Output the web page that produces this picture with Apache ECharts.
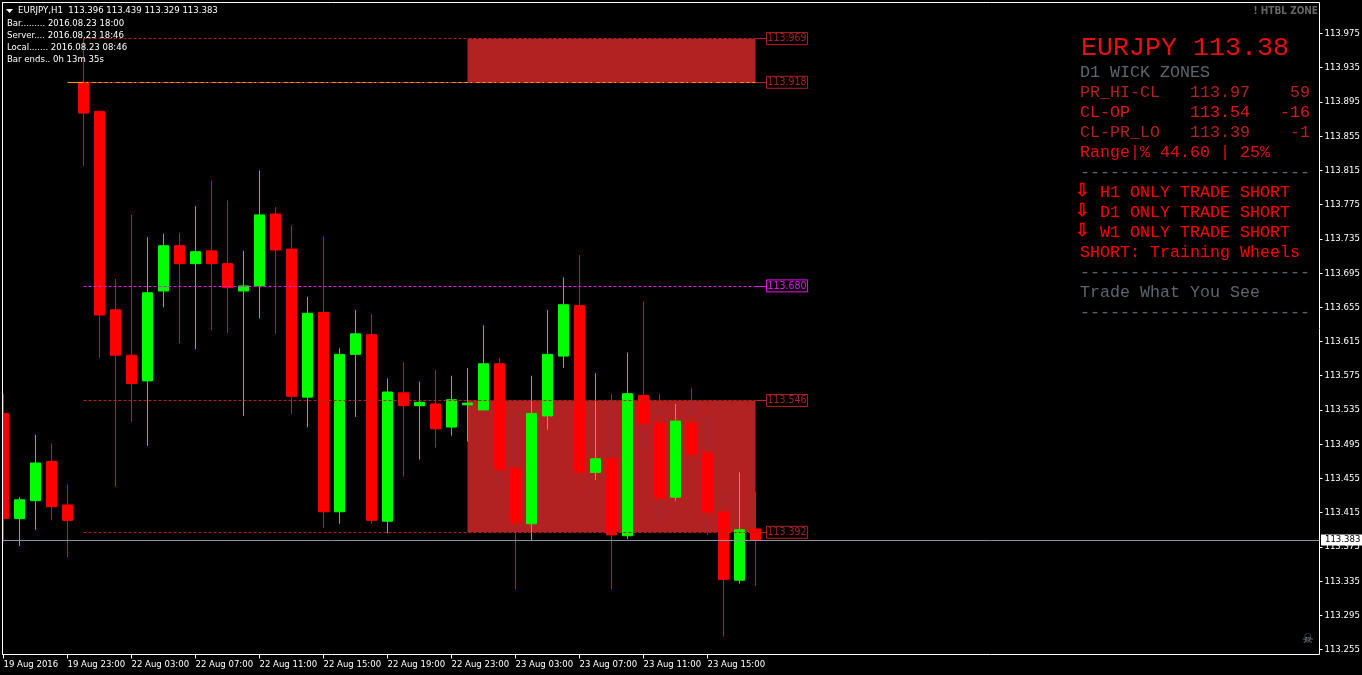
<!DOCTYPE html>
<html>
<head>
<meta charset="utf-8">
<style>html,body{margin:0;padding:0;background:#000;overflow:hidden}#c{width:1362px;height:675px}</style>
<script src="https://cdn.jsdelivr.net/npm/echarts@6/dist/echarts.min.js"></script>
</head>
<body>
<div id="c"></div>
<script>
const opens=[113.531,113.408,113.429,113.475,113.424,113.918,113.884,113.652,113.599,113.569,113.674,113.727,113.706,113.721,113.706,113.674,113.680,113.764,113.723,113.550,113.649,113.416,113.600,113.623,113.405,113.555,113.540,113.542,113.515,113.541,113.535,113.589,113.467,113.402,113.528,113.598,113.657,113.462,113.478,113.388,113.552,113.520,113.433,113.520,113.485,113.416,113.336,113.396];
const closes=[113.408,113.430,113.473,113.422,113.406,113.882,113.646,113.599,113.566,113.672,113.727,113.706,113.720,113.706,113.678,113.680,113.763,113.722,113.551,113.648,113.416,113.600,113.624,113.406,113.556,113.540,113.544,113.513,113.547,113.543,113.589,113.465,113.403,113.531,113.600,113.658,113.462,113.478,113.389,113.554,113.519,113.432,113.522,113.483,113.415,113.337,113.395,113.383];
const highs=[113.554,113.433,113.506,113.496,113.448,113.969,113.884,113.688,113.763,113.737,113.741,113.742,113.773,113.803,113.780,113.721,113.815,113.772,113.751,113.667,113.738,113.607,113.652,113.647,113.572,113.591,113.568,113.582,113.575,113.584,113.634,113.596,113.531,113.575,113.652,113.690,113.716,113.578,113.554,113.602,113.662,113.554,113.542,113.561,113.534,113.438,113.462,113.439];
const lows=[113.381,113.376,113.395,113.406,113.363,113.820,113.596,113.445,113.521,113.493,113.655,113.613,113.606,113.628,113.625,113.528,113.642,113.624,113.530,113.515,113.397,113.402,113.527,113.402,113.391,113.457,113.477,113.491,113.505,113.498,113.535,113.439,113.325,113.382,113.512,113.584,113.447,113.453,113.325,113.384,113.488,113.402,113.429,113.474,113.389,113.270,113.332,113.329];
const timeTicks=[0,4,8,12,16,20,24,28,32,36,40,44];
const timeLabels=['19 Aug 2016','19 Aug 23:00','22 Aug 03:00','22 Aug 07:00','22 Aug 11:00','22 Aug 15:00','22 Aug 19:00','22 Aug 23:00','23 Aug 03:00','23 Aug 07:00','23 Aug 11:00','23 Aug 15:00'];
const priceTicks=[113.975,113.935,113.895,113.855,113.815,113.775,113.735,113.695,113.655,113.615,113.575,113.535,113.495,113.455,113.415,113.375,113.335,113.295,113.255];
const levels=[113.969,113.918,113.680,113.546,113.392];
const levelColors=['#b22222','#b22222','#ee11ee','#b22222','#b22222'];
const zones=[[113.969,113.918],[113.546,113.392]];
const lastPrice=113.383;

const NARROW='"DejaVu Sans Condensed","DejaVu Sans",sans-serif';
const MONO='"Liberation Mono",monospace';
const RED='#ff0000', DIM='#b22222', GREY='#5c666e';
const xMin=-0.0625,xMax=82.25,yMin=113.24920,yMax=114.01123;
const zoneFrom=29,lineTo=47,stubTo=47.69;

const candles=opens.map((o,i)=>[i,o,closes[i],lows[i],highs[i]]);
const solid=(p,a,b,color,label)=>[{coord:[a,p],lineStyle:{color,type:'solid',width:1},label},{coord:[b,p]}];
const dashed=(p,a,b,color,type)=>[{coord:[a,p],lineStyle:{color,type:type||[3,2],width:1},label:{show:false}},{coord:[b,p]}];
const boxLabel=c=>({show:true,position:'end',distance:0,color:c==='#b22222'?'#a82020':c,fontFamily:NARROW,fontSize:10.5,lineHeight:12,borderColor:c,borderWidth:1,padding:[0,1,0,1]});
const lineData=[];
levels.forEach((p,k)=>{
  const c=levelColors[k];
  if(p===113.918){
    lineData.push(dashed(p,4,lineTo,'#ffa500',[21,3]));
    lineData.push(dashed(p,5,lineTo,'#d83018',[3,3]));
  } else lineData.push(dashed(p,5,lineTo,c));
  lineData.push(solid(p,lineTo,stubTo,c,Object.assign(boxLabel(c),{formatter:p.toFixed(3)})));
});
lineData.push(solid(lastPrice,xMin,xMax,'#8594a4',{show:true,position:'end',distance:1.5,formatter:lastPrice.toFixed(3),color:'#000',backgroundColor:'#fff',fontFamily:NARROW,fontSize:9.5,lineHeight:11,padding:[0,6,0,4]}));

function t(x,y,text,fill,size,font,extra){
  return {type:'text',x,y,silent:true,z:20,style:Object.assign({text,fill,fontSize:size,fontFamily:font,verticalAlign:'middle',align:'left'},extra||{})};
}
const dashes='-----------------------';
const ARROW='"DejaVu Sans",sans-serif';
const arrowStyle={stroke:RED,lineWidth:0.5};
const g=[
  {type:'rect',silent:true,z:19,shape:{x:0,y:3,width:2,height:651},style:{fill:'#000'}},
  {type:'rect',silent:true,z:19,shape:{x:2,y:2,width:1,height:653},style:{fill:'#fff'}},
  {type:'polygon',silent:true,z:20,shape:{points:[[6,9],[13,9],[9.5,13]]},style:{fill:'#fff'}},
  t(18,10.5,'EURJPY,H1  113.396 113.439 113.329 113.383','#fff',9.5,NARROW),
  t(7,23.5,'Bar......... 2016.08.23 18:00','#fff',9.5,NARROW),
  t(7,35.5,'Server.... 2016.08.23 18:46','#fff',9.5,NARROW),
  t(7,47.5,'Local....... 2016.08.23 08:46','#fff',9.5,NARROW),
  t(7,59.5,'Bar ends.. 0h 13m 35s','#fff',9.5,NARROW),
  t(1318,11,'! HTBL ZONE','#666',10,NARROW,{align:'right',fontWeight:'bold'}),
  t(1081,48,'EURJPY 113.38','#e81010',26.67,MONO),
  t(1080,72.5,'D1 WICK ZONES',GREY,16.67,MONO),
  t(1080,92.5,'PR_HI-CL   113.97    59',DIM,16.67,MONO),
  t(1080,112.5,'CL-OP      113.54   -16','#e01818',16.67,MONO),
  t(1080,132.5,'CL-PR_LO   113.39    -1',DIM,16.67,MONO),
  t(1080,152.5,'Range|% 44.60 | 25%','#e81010',16.67,MONO),
  t(1080,172.5,dashes,GREY,16.67,MONO),
  t(1075,191,'\u21E9',RED,18,ARROW,arrowStyle),
  t(1100,192.5,'H1 ONLY TRADE SHORT',RED,16.67,MONO),
  t(1075,211,'\u21E9',RED,18,ARROW,arrowStyle),
  t(1100,212.5,'D1 ONLY TRADE SHORT',RED,16.67,MONO),
  t(1075,231,'\u21E9',RED,18,ARROW,arrowStyle),
  t(1100,232.5,'W1 ONLY TRADE SHORT',RED,16.67,MONO),
  t(1080,252.5,'SHORT: Training Wheels',RED,16.67,MONO),
  t(1080,272.5,dashes,GREY,16.67,MONO),
  t(1080,292.5,'Trade What You See',GREY,16.67,MONO),
  t(1080,312.5,dashes,GREY,16.67,MONO),
  t(1302,640,'\u2620','#7c8894',13,ARROW)
];

const chart=echarts.init(document.getElementById('c'),null,{renderer:'canvas'});
chart.setOption({
  animation:false,
  backgroundColor:'#000',
  grid:{left:2.5,top:2.5,width:1317,height:652,show:true,borderColor:'#fff',borderWidth:1,backgroundColor:'transparent',containLabel:false,outerBoundsMode:'none'},
  tooltip:{show:false},
  xAxis:{type:'value',min:xMin,max:xMax,splitLine:{show:false},axisLine:{show:false,onZero:false},
    axisTick:{show:true,length:4,lineStyle:{color:'#fff',width:1},customValues:timeTicks},
    axisLabel:{show:true,align:'left',margin:5,color:'#fff',fontFamily:NARROW,fontSize:9.5,customValues:timeTicks,hideOverlap:false,showMinLabel:true,showMaxLabel:true,
      formatter:v=>timeLabels[timeTicks.indexOf(Math.round(v))]||''}},
  yAxis:{type:'value',position:'right',min:yMin,max:yMax,scale:true,splitLine:{show:false},axisLine:{show:false,onZero:false},
    axisTick:{show:true,length:3,lineStyle:{color:'#fff',width:1},customValues:priceTicks},
    axisLabel:{show:true,margin:5,color:'#fff',fontFamily:NARROW,fontSize:9.5,customValues:priceTicks,hideOverlap:false,showMinLabel:true,showMaxLabel:true,
      formatter:v=>v.toFixed(3)}},
  series:[
    {type:'candlestick',name:'EURJPY,H1',data:candles,barWidth:10,
      itemStyle:{color:'#00ff00',color0:'#ff0000',borderColor:'#00ff00',borderColor0:'#ff0000',borderWidth:1},z:2},
    {type:'line',name:'levels',data:[],silent:true,z:3,
      markArea:{silent:true,itemStyle:{color:'#b22222',opacity:1},z:1,
        data:zones.map(z=>[{coord:[zoneFrom,z[0]]},{coord:[lineTo,z[1]]}])},
      markLine:{silent:true,symbol:'none',animation:false,z:5,precision:3,data:lineData}}
  ],
  graphic:g
});
</script>
</body>
</html>
